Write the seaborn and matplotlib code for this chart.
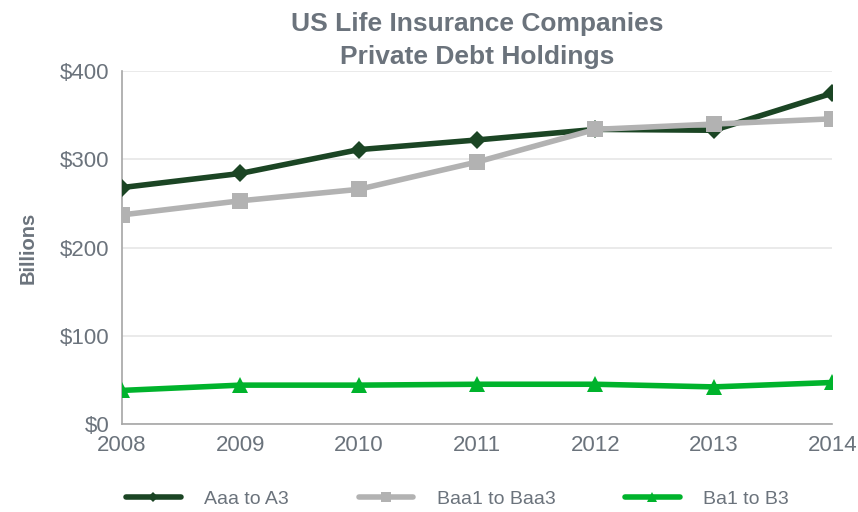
import pandas as pd
import matplotlib.pyplot as plt
import seaborn as sns

years = [2008, 2009, 2010, 2011, 2012, 2013, 2014]
aaa_to_a3 = [268, 284, 311, 322, 334, 333, 375]
baa1_to_baa3 = [237, 253, 266, 297, 334, 340, 346]
ba1_to_b3 = [38, 44, 44, 45, 45, 42, 47]

series_names = ["Aaa to A3", "Baa1 to Baa3", "Ba1 to B3"]
colors = ["#1b4524", "#b2b2b2", "#00b32c"]
markers = ["D", "s", "^"]
marker_sizes = [9, 12, 11]

df = pd.DataFrame({
    "year": years * 3,
    "value": aaa_to_a3 + baa1_to_baa3 + ba1_to_b3,
    "series": sum([[n] * len(years) for n in series_names], []),
})

sns.set_style("white")
plt.rcParams["font.family"] = ["Liberation Sans", "DejaVu Sans"]
text_col = "#6b737c"

fig, ax = plt.subplots(figsize=(8.58, 5.12), dpi=100)
fig.subplots_adjust(left=0.142, right=0.970, top=0.861, bottom=0.172)

for name, c, m, ms in zip(series_names, colors, markers, marker_sizes):
    sns.lineplot(data=df[df["series"] == name], x="year", y="value", ax=ax,
                 color=c, marker=m, markersize=ms, markeredgewidth=0,
                 linewidth=4, label=name, zorder=3)

ax.set_xlim(2008, 2014)
ax.set_ylim(0, 400)
ax.set_yticks([0, 100, 200, 300, 400])
ax.set_yticklabels(["$0", "$100", "$200", "$300", "$400"])
ax.set_xticks(years)
ax.yaxis.grid(True, color="#e6e6e6", linewidth=1.2)
ax.set_axisbelow(True)
for s in ["top", "right"]:
    ax.spines[s].set_visible(False)
for s in ["left", "bottom"]:
    ax.spines[s].set_color("#a6a6a6")
    ax.spines[s].set_linewidth(1.2)
ax.tick_params(axis="both", colors="#a6a6a6", length=5, width=1.2,
               labelcolor=text_col, labelsize=16, direction="out")
ax.tick_params(axis="x", pad=3)
ax.tick_params(axis="y", pad=4)
ax.set_xlabel("")
ax.set_ylabel("Billions", fontsize=14.5, fontweight="bold", color=text_col, labelpad=16)
ax.set_title("US Life Insurance Companies\nPrivate Debt Holdings", fontsize=19,
             fontweight="bold", color=text_col, pad=5, linespacing=1.5)

leg = ax.legend(loc="upper center", bbox_to_anchor=(0.4725, -0.139), ncol=3,
                frameon=False, fontsize=14, handlelength=2.8, handletextpad=1.2,
                columnspacing=3.6, markerscale=0.6)
for t in leg.get_texts():
    t.set_color(text_col)

plt.savefig("out.png", dpi=100)
plt.close()
